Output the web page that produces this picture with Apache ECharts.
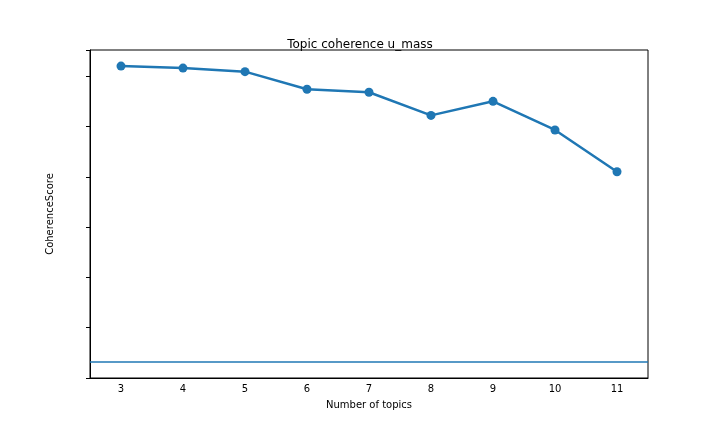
<!DOCTYPE html>
<html><head><meta charset="utf-8">
<script src="https://cdn.jsdelivr.net/npm/echarts@6/dist/echarts.min.js"></script>
<style>html,body{margin:0;padding:0;background:#fff}#c{width:720px;height:432px}</style>
</head><body><div id="c"></div>
<script>
const categories = ['3','4','5','6','7','8','9','10','11'];
const coherence = [-0.95, -0.97, -1.005, -1.18, -1.21, -1.44, -1.30, -1.585, -2.0];
const refLine = -3.89;
const chart = echarts.init(document.getElementById('c'));
const font = 'DejaVu Sans, Arial, sans-serif';
chart.setOption({
  animation: false,
  title: {text: 'Topic coherence u_mass', left: 'center', top: 34,
    textStyle: {fontFamily: font, fontSize: 12, fontWeight: 'normal', color: '#000'}},
  grid: {left: 90, right: 72, top: 50, bottom: 54, show: true, borderColor: '#000', borderWidth: 1},
  xAxis: {type: 'category', data: categories, boundaryGap: true,
    name: 'Number of topics', nameLocation: 'middle', nameGap: 22,
    nameTextStyle: {fontFamily: font, fontSize: 10, color: '#000'},
    axisLine: {lineStyle: {color: '#000'}},
    axisTick: {alignWithLabel: true, length: 4, lineStyle: {color: '#000'}},
    axisLabel: {fontFamily: font, fontSize: 10, color: '#000', margin: 6}},
  yAxis: {type: 'value', min: -4.05, max: -0.79, interval: 0.5,
    name: 'CoherenceScore', nameLocation: 'middle', nameGap: 35,
    nameTextStyle: {fontFamily: font, fontSize: 10, color: '#000'},
    splitLine: {show: false},
    axisLine: {show: true, lineStyle: {color: '#000'}},
    axisTick: {show: true, length: 4, lineStyle: {color: '#000'}},
    axisLabel: {fontFamily: font, fontSize: 10, color: '#000', margin: 6,
      formatter: v => { const r = Math.round(v*2)/2; return Math.abs(r - v) < 1e-6 ? r.toFixed(1) : ''; }}},
  series: [{type: 'line', data: coherence, color: '#1f77b4',
    lineStyle: {width: 2.5}, symbol: 'circle', symbolSize: 9,
    itemStyle: {color: '#1f77b4'},
    markLine: {silent: true, symbol: 'none', label: {show: false},
      lineStyle: {color: '#1f77b4', width: 1.5, type: 'solid'},
      data: [{yAxis: refLine}]}}]
});
</script></body></html>
